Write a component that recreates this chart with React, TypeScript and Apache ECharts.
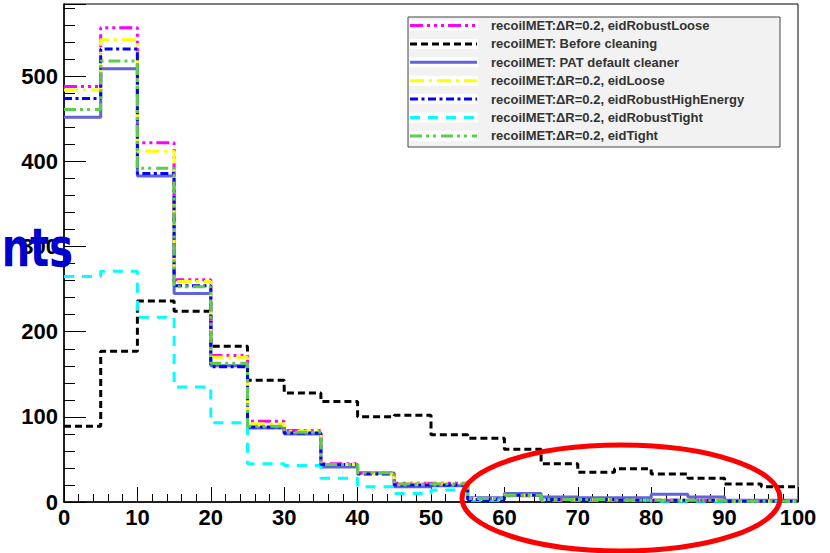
import React, { useEffect, useRef } from "react";
import * as echarts from "echarts";

const binEdges = [0, 5, 10, 15, 20, 25, 30, 35, 40, 45, 50, 55, 60, 65, 70, 75, 80, 85, 90, 95];
const xMax = 100;

const seriesNames = [
  "recoilMET:\u0394R=0.2, eidRobustLoose",
  "recoilMET: Before cleaning",
  "recoilMET: PAT default cleaner",
  "recoilMET:\u0394R=0.2, eidLoose",
  "recoilMET:\u0394R=0.2, eidRobustHighEnergy",
  "recoilMET:\u0394R=0.2, eidRobustTight",
  "recoilMET:\u0394R=0.2, eidTight",
];

const robustLoose = [488, 557, 422, 261, 172, 95, 84, 45, 34, 22, 22, 4, 8, 3, 3, 2, 2, 2, 1, 1];
const beforeCleaning = [89, 177, 236, 224, 183, 143, 128, 118, 100, 102, 79, 75, 62, 45, 35, 39, 33, 28, 21, 18];
const patDefault = [452, 509, 383, 245, 160, 87, 80, 41, 34, 18, 19, 5, 10, 6, 5, 5, 9, 6, 2, 2];
const eidLoose = [484, 543, 412, 259, 170, 92, 83, 44, 33, 21, 21, 4, 8, 3, 3, 2, 2, 2, 1, 1];
const robustHighEnergy = [474, 532, 386, 254, 159, 88, 81, 44, 33, 20, 20, 3, 8, 3, 3, 2, 2, 2, 1, 1];
const robustTight = [265, 271, 217, 135, 93, 45, 43, 28, 18, 10, 14, 2, 7, 2, 2, 2, 1, 1, 1, 1];
const eidTight = [461, 518, 392, 253, 163, 89, 82, 44, 34, 21, 21, 4, 8, 3, 3, 2, 2, 2, 1, 1];

const allValues = [robustLoose, beforeCleaning, patDefault, eidLoose, robustHighEnergy, robustTight, eidTight];
const colors = ["#ff00ff", "#000000", "#6262da", "#ffff00", "#0000ff", "#00ffff", "#5ccc4c"];
const dashes: (number[] | "solid")[] = [
  [13, 4, 3, 4, 3, 4, 3, 4],
  [7, 4],
  "solid",
  [14, 5, 3, 5],
  [8, 3.5, 3, 3.5],
  [10, 8],
  [12, 4, 3, 4, 3, 5],
];
// draw order: PAT first (underneath)
const drawOrder = [2, 1, 5, 0, 3, 4, 6];

function histData(vals: number[]) {
  const d: number[][] = vals.map((v, i) => [binEdges[i], v]);
  d.push([xMax, vals[vals.length - 1]]);
  return d;
}

export default function App() {
  const ref = useRef<HTMLDivElement>(null);
  useEffect(() => {
    if (!ref.current) return;
    const chart = echarts.init(ref.current, undefined, { renderer: "svg" });
    const font = "Liberation Sans";
    const series = drawOrder.map((i) => ({
      name: seriesNames[i],
      type: "line",
      step: "end",
      showSymbol: false,
      symbol: "none",
      data: histData(allValues[i]),
      lineStyle: { color: colors[i], width: 3, type: dashes[i], cap: "butt" },
      itemStyle: { color: colors[i] },
      z: 2 + drawOrder.indexOf(i),
    }));

    const legX = 408, legY = 17, legW = 372, legH = 130;
    const rowY0 = 25.5, rowStep = 18.4;
    const legendEls: any[] = [
      {
        type: "rect",
        shape: { x: legX, y: legY, width: legW, height: legH },
        style: { fill: "#f2f2f2", stroke: "#444", lineWidth: 1 },
        z: 50,
      },
    ];
    seriesNames.forEach((name, i) => {
      const cy = rowY0 + i * rowStep;
      legendEls.push({
        type: "rect",
        shape: { x: 409, y: cy - 5, width: 69, height: 10 },
        style: { fill: "#ffffff" },
        z: 51,
      });
      legendEls.push({
        type: "line",
        shape: { x1: 410, y1: cy, x2: 477, y2: cy },
        style: {
          stroke: colors[i],
          lineWidth: 3,
          lineDash: dashes[i] === "solid" ? null : dashes[i],
        },
        z: 52,
      });
      legendEls.push({
        type: "text",
        x: 491,
        y: cy,
        style: {
          text: name,
          font: `bold 13px "${font}"`,
          fill: "#333333",
          textAlign: "left",
          textVerticalAlign: "middle",
        },
        z: 52,
      });
    });

    chart.setOption({
      animation: false,
      grid: {
        left: 64,
        right: 32,
        top: 4,
        bottom: 51,
        show: true,
        borderColor: "#000",
        borderWidth: 1,
        backgroundColor: "transparent",
      },
      xAxis: {
        type: "value",
        min: 0,
        max: xMax,
        interval: 10,
        axisLine: { lineStyle: { color: "#000", width: 1.5 } },
        axisTick: { inside: true, length: 15, lineStyle: { color: "#000", width: 1 } },
        minorTick: { show: true, splitNumber: 5, length: 8, lineStyle: { color: "#000", width: 1 } },
        axisLabel: { fontFamily: font, fontSize: 22, fontWeight: "bold", color: "#000", margin: 4 },
        splitLine: { show: false },
      },
      yAxis: [
        {
          type: "value",
          min: 0,
          max: 585,
          interval: 20,
          position: "left",
          axisLine: { show: true, lineStyle: { color: "#000", width: 1.5 } },
          axisTick: { inside: true, length: 11, lineStyle: { color: "#000", width: 1 } },
          axisLabel: {
            fontFamily: font,
            fontSize: 22,
            fontWeight: "bold",
            color: "#000",
            margin: 6,
            showMaxLabel: false,
            formatter: (v: number) => (v % 100 === 0 ? String(v) : ""),
          },
          splitLine: { show: false },
        },
        {
          type: "value",
          min: 0,
          max: 585,
          interval: 100,
          position: "left",
          axisLine: { show: false },
          axisTick: { show: true, inside: true, length: 22, lineStyle: { color: "#000", width: 1 } },
          axisLabel: { show: false },
          splitLine: { show: false },
        },
      ],
      series,
      graphic: [
        ...legendEls,
        {
          type: "text",
          x: 73,
          y: 247,
          scaleX: 0.74,
          style: {
            text: "nts",
            font: 'bold 54px "DejaVu Sans"',
            fill: "#0000cc",
            textAlign: "right",
            textVerticalAlign: "middle",
          },
          z: 60,
        },
        {
          type: "ellipse",
          shape: { cx: 621, cy: 498, rx: 159, ry: 53 },
          style: { fill: "none", stroke: "#ff0000", lineWidth: 5 },
          z: 60,
        },
      ],
    });
    return () => chart.dispose();
  }, []);
  return <div ref={ref} style={{ width: 830, height: 553, position: "absolute", left: 0, top: 0 }} />;
}
